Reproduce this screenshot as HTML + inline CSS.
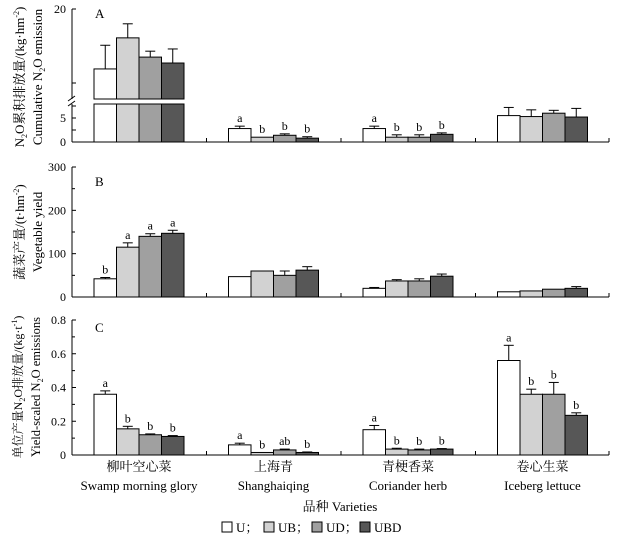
<!DOCTYPE html>
<html><head><meta charset="utf-8"><style>
body{margin:0;background:#fff}
svg{display:block}
text{font-family:"Liberation Serif","Noto Serif CJK SC",serif}
</style></head><body>
<svg id="c" width="619" height="541" viewBox="0 0 619 541"></svg>
<script>
const categoriesZh=["柳叶空心菜","上海青","青梗香菜","卷心生菜"];
const categoriesEn=["Swamp morning glory","Shanghaiqing","Coriander herb","Iceberg lettuce"];
const seriesNames=["U","UB","UD","UBD"];
const seriesColors=["#ffffff","#d2d2d2","#a0a0a0","#575757"];
const aVals=[[11.9,16.1,13.5,12.7],[2.8,1.0,1.4,0.8],[2.8,1.0,1.0,1.6],[5.5,5.3,6.0,5.2]];
const aErr=[[15.1,18.0,14.3,14.6],[3.3,1.0,1.7,1.1],[3.3,1.5,1.5,1.9],[7.2,6.7,6.6,7.0]];
const aLetters=[["","","",""],["a","b","b","b"],["a","b","b","b"],["","","",""]];
const bVals=[[42,115,140,147],[47,60,50,62],[20,37,37,48],[12,14,18,20]];
const bErr=[[45,125,146,154],[47,60,60,70],[22,40,42,53],[12,15,19,24]];
const bLetters=[["b","a","a","a"],["","","",""],["","","",""],["","","",""]];
const cVals=[[0.36,0.155,0.12,0.11],[0.06,0.015,0.03,0.015],[0.15,0.035,0.03,0.035],[0.56,0.36,0.36,0.235]];
const cErr=[[0.38,0.17,0.125,0.115],[0.07,0.015,0.035,0.018],[0.175,0.04,0.035,0.038],[0.65,0.39,0.43,0.25]];
const cLetters=[["a","b","b","b"],["a","b","ab","b"],["a","b","b","b"],["a","b","b","b"]];
const aLowTicks=[0,5];const bTicks=[0,100,200,300];const cTicks=[0,0.2,0.4,0.6,0.8];

const svg=document.getElementById('c');const NS="http://www.w3.org/2000/svg";
const FF='"Liberation Serif","Noto Serif CJK SC",serif';
function el(t,a,txt){const e=document.createElementNS(NS,t);for(const k in a)e.setAttribute(k,a[k]);if(t==='text')e.setAttribute('font-family',FF);if(txt!==undefined)e.textContent=txt;svg.appendChild(e);return e;}
const X0=72,X1=609,gStart=94,gStep=134.5,bw=22.5;
function bx(g,s){return gStart+g*gStep+s*bw;}
function axisX(y,name){
  const l=el('line',{x1:X0,y1:y,x2:X1,y2:y,stroke:'#000','stroke-width':1});
  
  for(let g=1;g<4;g++){const x=gStart+g*gStep-22;el('line',{x1:x,y1:y,x2:x,y2:y-4,stroke:'#000'});}
  el('line',{x1:X1,y1:y,x2:X1,y2:y-4,stroke:'#000'});
}
function drawBars(vals,errs,letters,yf,panel){
  vals.forEach((row,g)=>row.forEach((v,s)=>{
    const x=bx(g,s),y=yf(v),y0=yf(0),ye=yf(errs[g][s]),cx=x+bw/2;
    if(ye<y-0.5){el('line',{x1:cx,y1:y,x2:cx,y2:ye,stroke:'#000'});el('line',{x1:cx-5,y1:ye,x2:cx+5,y2:ye,stroke:'#000'});}
    const r=el('rect',{x:x,y:y,width:bw,height:Math.max(0.5,y0-y),fill:seriesColors[s],stroke:'#000','stroke-width':1});
    
    if(letters&&letters[g][s]){const t=el('text',{x:cx,y:Math.min(ye,y)-4,'font-size':12,'text-anchor':'middle'},letters[g][s]);}
  }));
}
function yTicks(ticks,yf,fmt){ticks.forEach(t=>{const y=yf(t);el('line',{x1:X0,y1:y,x2:X0+4,y2:y,stroke:'#000'});const e=el('text',{x:X0-6,y:y+4,'font-size':12,'text-anchor':'end'},fmt(t));});}

// Panel A (broken axis)
const yAlow=v=>142-v*4.8;const yAhigh=v=>83-(v-10)*7.4;
const yA=v=>v>8?yAhigh(v):yAlow(v);
el('line',{x1:X0,y1:9,x2:X0,y2:99,stroke:'#000'});el('line',{x1:X0,y1:104,x2:X0,y2:142,stroke:'#000'});
el('line',{x1:X0-4,y1:101,x2:X0+3,y2:96,stroke:'#000'});el('line',{x1:X0-4,y1:106,x2:X0+3,y2:101,stroke:'#000'});
yTicks(aLowTicks,yAlow,t=>t);el('line',{x1:X0,y1:yAlow(2.5),x2:X0+4,y2:yAlow(2.5),stroke:'#000'});el('line',{x1:X0,y1:yAlow(7.5),x2:X0+4,y2:yAlow(7.5),stroke:'#000'});
el('line',{x1:X0,y1:9,x2:X0+4,y2:9,stroke:'#000'});el('text',{x:X0-6,y:13,'font-size':12,'text-anchor':'end'},'20');
el('line',{x1:X0,y1:83,x2:X0+4,y2:83,stroke:'#000'});
axisX(142,'x-axis-a');
aVals.forEach((row,g)=>row.forEach((v,s)=>{
  const x=bx(g,s),cx=x+bw/2,ye=yA(aErr[g][s]);
  if(v>8){
    el('line',{x1:cx,y1:yAhigh(v),x2:cx,y2:ye,stroke:'#000'});el('line',{x1:cx-5,y1:ye,x2:cx+5,y2:ye,stroke:'#000'});
    const r1=el('rect',{x:x,y:yAhigh(v),width:bw,height:99-yAhigh(v),fill:seriesColors[s],stroke:'#000'});
    
    el('rect',{x:x,y:104,width:bw,height:38,fill:seriesColors[s],stroke:'#000'});
  }else{
    const y=yAlow(v);
    if(ye<y-0.5){el('line',{x1:cx,y1:y,x2:cx,y2:ye,stroke:'#000'});el('line',{x1:cx-5,y1:ye,x2:cx+5,y2:ye,stroke:'#000'});}
    const r=el('rect',{x:x,y:y,width:bw,height:142-y,fill:seriesColors[s],stroke:'#000'});
    
    if(aLetters[g][s]){const t=el('text',{x:cx,y:Math.min(ye,y)-4,'font-size':12,'text-anchor':'middle'},aLetters[g][s]);}
  }
}));
el('text',{x:95,y:18,'font-size':13},'A');

// Panel B
const yB=v=>297-v*0.4333;
el('line',{x1:X0,y1:yB(300),x2:X0,y2:yB(0),stroke:'#000'});
yTicks(bTicks,yB,t=>t);
[50,150,250].forEach(t=>el('line',{x1:X0,y1:yB(t),x2:X0+3,y2:yB(t),stroke:'#000'}));
axisX(297,'x-axis-b');
drawBars(bVals,bErr,bLetters,yB,'b');
el('text',{x:95,y:186,'font-size':13},'B');

// Panel C
const yC=v=>455-v*168.75;
el('line',{x1:X0,y1:yC(0.8),x2:X0,y2:yC(0),stroke:'#000'});
yTicks(cTicks,yC,t=>t===0?'0':t.toFixed(1));
[0.1,0.3,0.5,0.7].forEach(t=>el('line',{x1:X0,y1:yC(t),x2:X0+3,y2:yC(t),stroke:'#000'}));
axisX(455,'x-axis-c');
drawBars(cVals,cErr,cLetters,yC,'c');
el('text',{x:95,y:332,'font-size':13},'C');

categoriesZh.forEach((z,g)=>{const cx=gStart+g*gStep+2*bw;
  const a=el('text',{x:cx,y:471,'font-size':13,'text-anchor':'middle'},z);
  const b=el('text',{x:cx,y:490,'font-size':13,'text-anchor':'middle'},categoriesEn[g]);});
const xt=el('text',{x:340,y:511,'font-size':13,'text-anchor':'middle'},'品种 Varieties');

function ytitle(x,y,lines,name,fs){const t=el('text',{x:0,y:0,'font-size':fs||12.5,'text-anchor':'middle',transform:`translate(${x},${y}) rotate(-90)`});t.innerHTML=lines;}
ytitle(24,77,'N<tspan font-size="8" dy="3">2</tspan><tspan dy="-3">O累积排放量/(kg·hm</tspan><tspan font-size="8" dy="-5">-2</tspan><tspan dy="5">)</tspan>','y-title-a-zh',13);
ytitle(42,77,'Cumulative N<tspan font-size="8" dy="3">2</tspan><tspan dy="-3">O emission</tspan>','y-title-a-en',13);
ytitle(24,232,'蔬菜产量/(t·hm<tspan font-size="8" dy="-5">-2</tspan><tspan dy="5">)</tspan>','y-title-b-zh',13);
ytitle(42,232,'Vegetable yield','y-title-b-en',13);
ytitle(22,387,'单位产量N<tspan font-size="8" dy="3">2</tspan><tspan dy="-3">O排放量/(kg·t</tspan><tspan font-size="8" dy="-5">-1</tspan><tspan dy="5">)</tspan>','y-title-c-zh',12);
ytitle(40,387,'Yield-scaled N<tspan font-size="8" dy="3">2</tspan><tspan dy="-3">O emissions</tspan>','y-title-c-en',12.5);

let lx=222;
seriesNames.forEach((n,i)=>{
  const r=el('rect',{x:lx,y:522,width:10,height:10,fill:seriesColors[i],stroke:'#000'});
  const t=el('text',{x:lx+14,y:532,'font-size':13},n+(i<3?'；':''));
  lx+=[42,48,48,0][i];
});
</script>
</body></html>
